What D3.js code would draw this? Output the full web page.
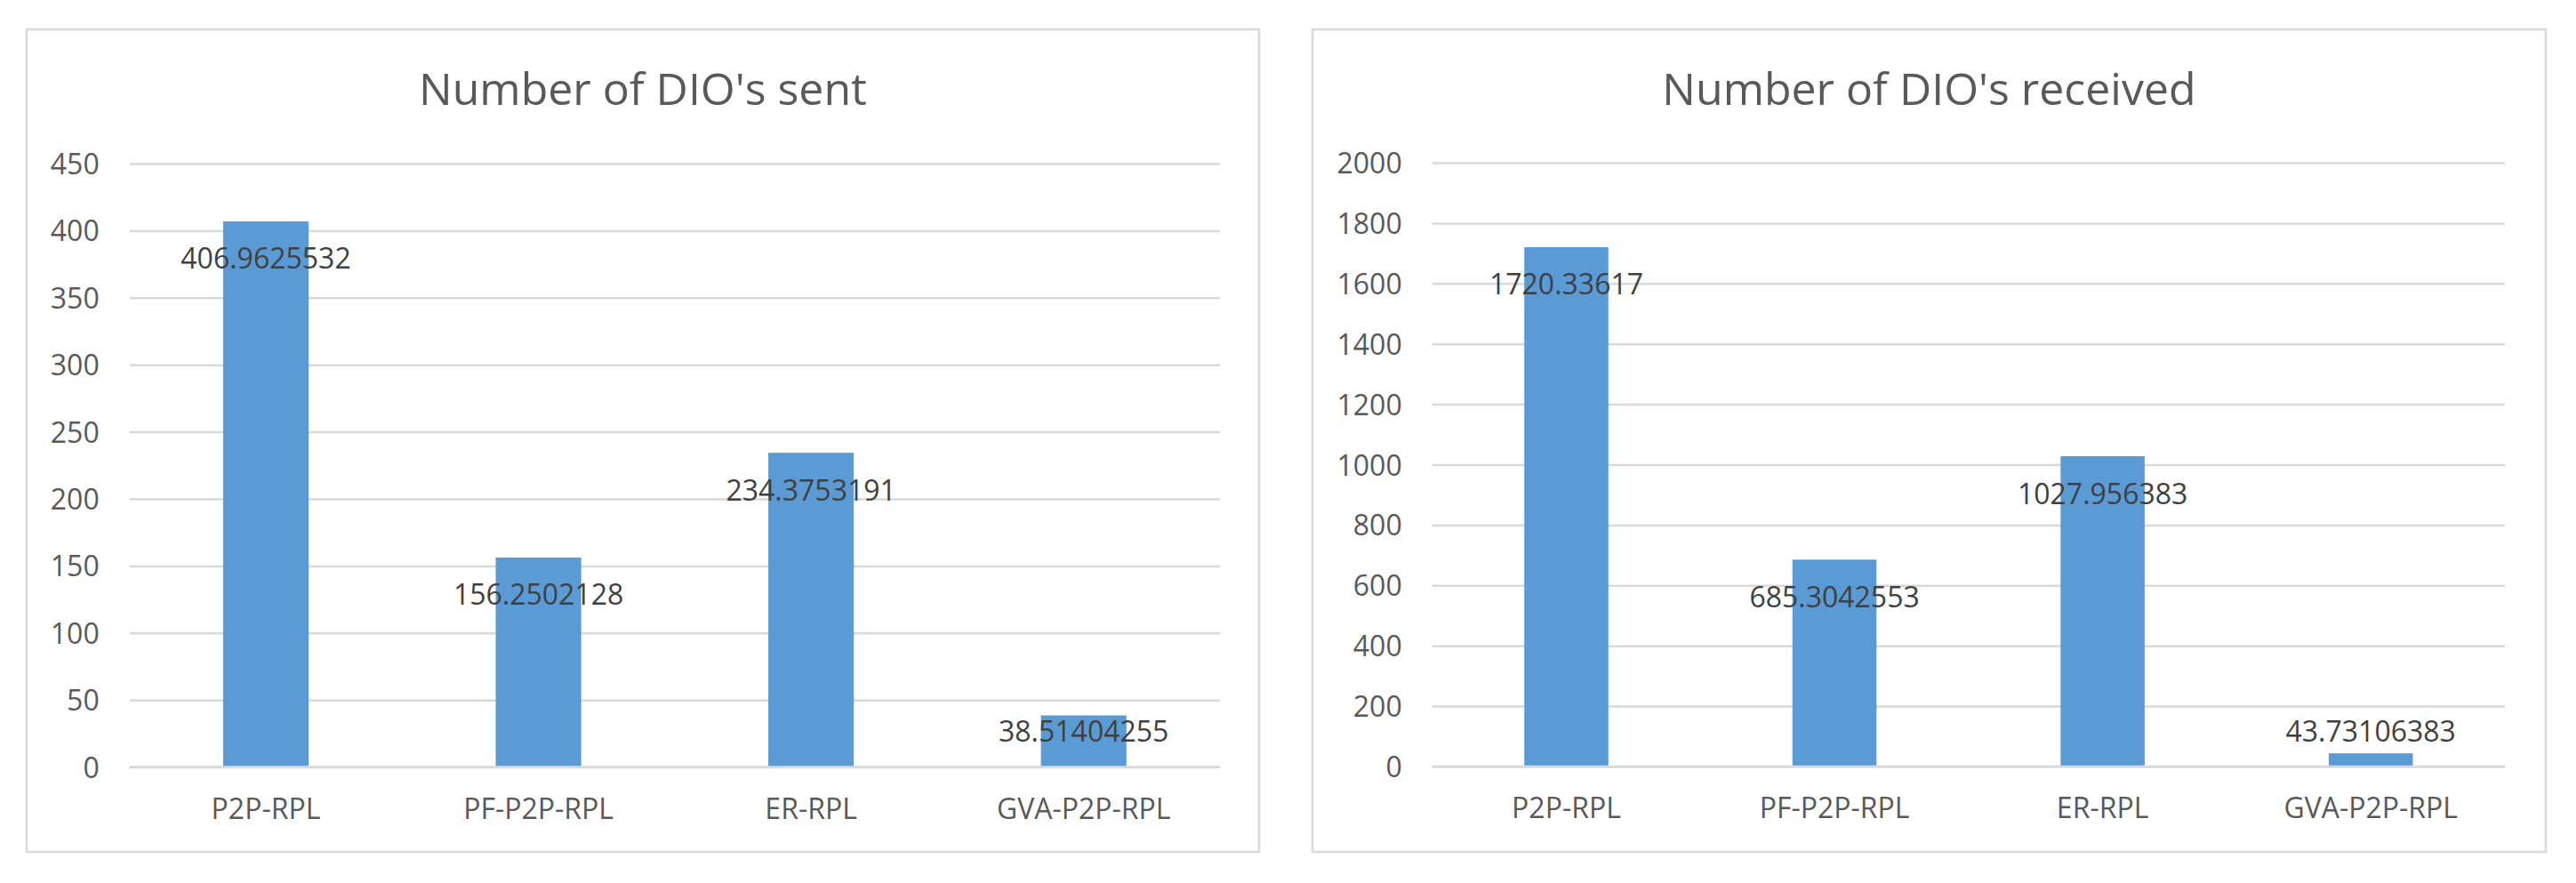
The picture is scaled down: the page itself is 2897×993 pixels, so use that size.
<!DOCTYPE html>
<html>
<head>
<meta charset="utf-8">
<script src="https://cdn.jsdelivr.net/npm/d3@7"></script>
<style>
  html, body { margin: 0; padding: 0; background: #ffffff; }
  svg { display: block; }
  text { font-family: "Open Sans", Lato, "Liberation Sans", sans-serif; }
</style>
</head>
<body>
<svg id="chart" width="2897" height="993"></svg>
<script>
// ---- data ----
const categories = ["P2P-RPL", "PF-P2P-RPL", "ER-RPL", "GVA-P2P-RPL"];
const sentValues = [406.9625532, 156.2502128, 234.3753191, 38.51404255];
const receivedValues = [1720.33617, 685.3042553, 1027.956383, 43.73106383];
const sentTicks = [0, 50, 100, 150, 200, 250, 300, 350, 400, 450];
const receivedTicks = [0, 200, 400, 600, 800, 1000, 1200, 1400, 1600, 1800, 2000];
const sentTitle = "Number of DIO's sent";
const receivedTitle = "Number of DIO's received";
const sentLabels = ["406.9625532", "156.2502128", "234.3753191", "38.51404255"];
const receivedLabels = ["1720.33617", "685.3042553", "1027.956383", "43.73106383"];

// ---- style ----
const BAR = "#5B9BD5";
const GRID = "#D9D9D9";
const AXIS_TEXT = "#595959";
const LABEL_TEXT = "#404040";
const FONT = '"Open Sans", Lato, sans-serif';

const svg = d3.select("#chart");

function panel(cfg) {
  const g = svg.append("g");
  // border
  g.append("rect")
    .attr("x", cfg.box[0]).attr("y", cfg.box[1])
    .attr("width", cfg.box[2] - cfg.box[0]).attr("height", cfg.box[3] - cfg.box[1])
    .attr("fill", "#fff").attr("stroke", GRID).attr("stroke-width", 2.5);

  // title
  g.append("text")
    .attr("x", (cfg.box[0] + cfg.box[2]) / 2)
    .attr("y", cfg.titleY)
    .attr("text-anchor", "middle")
    .attr("fill", AXIS_TEXT)
    .style("font-size", "50px")
    .text(cfg.title);

  const x = d3.scaleBand()
    .domain(cfg.categories)
    .range([cfg.plot[0], cfg.plot[2]])
    .paddingInner(1 - 1 / 3.19)
    .paddingOuter((1 - 1 / 3.19) / 2);
  const y = d3.scaleLinear()
    .domain([0, d3.max(cfg.ticks)])
    .range([cfg.plot[3], cfg.plot[1]]);

  // gridlines
  const grid = d3.axisLeft(y).tickValues(cfg.ticks)
    .tickSize(-(cfg.plot[2] - cfg.plot[0])).tickFormat("");
  const gg = g.append("g").attr("transform", `translate(${cfg.plot[0]},0)`).call(grid);
  gg.select(".domain").remove();
  gg.selectAll(".tick line").attr("stroke", GRID).attr("stroke-width", 2.5);

  // tick labels
  const ax = d3.axisLeft(y).tickValues(cfg.ticks).tickSize(0).tickPadding(34)
    .tickFormat(d3.format("d"));
  const ag = g.append("g").attr("transform", `translate(${cfg.plot[0]},0)`).call(ax);
  ag.select(".domain").remove();
  ag.selectAll(".tick text")
    .attr("fill", AXIS_TEXT)
    .attr("dy", "0.36em")
    .style("font-size", "32px")
    .style("font-family", FONT);

  // bars
  g.selectAll("rect.bar").data(cfg.values).enter().append("rect")
    .attr("class", "bar")
    .attr("x", (d, i) => x(cfg.categories[i]))
    .attr("width", x.bandwidth())
    .attr("y", d => y(d))
    .attr("height", d => y(0) - y(d))
    .attr("fill", BAR);

  // zero line on top
  g.append("line")
    .attr("x1", cfg.plot[0]).attr("x2", cfg.plot[2])
    .attr("y1", y(0)).attr("y2", y(0))
    .attr("stroke", GRID).attr("stroke-width", 2.5);

  // category labels
  const cx = d3.axisBottom(x).tickSize(0).tickPadding(0);
  const cg = g.append("g").attr("transform", `translate(0,${y(0)})`).call(cx);
  cg.select(".domain").remove();
  cg.selectAll(".tick text")
    .attr("fill", AXIS_TEXT)
    .attr("y", 58).attr("dy", 0)
    .style("font-size", "32px")
    .style("font-family", FONT);

  // data labels
  g.selectAll("text.dl").data(cfg.values).enter().append("text")
    .attr("class", "dl")
    .attr("x", (d, i) => x(cfg.categories[i]) + x.bandwidth() / 2)
    .attr("y", d => Math.min(y(d) + 42, y(0) - 40) + 11.5)
    .attr("text-anchor", "middle")
    .attr("fill", LABEL_TEXT)
    .style("font-size", "32px")
    .text((d, i) => cfg.labels[i]);
}

panel({
  box: [30, 33, 1416, 958],
  plot: [145.7, 184, 1372, 862.6],
  titleY: 118.3,
  title: sentTitle,
  categories: categories,
  values: sentValues,
  labels: sentLabels,
  ticks: sentTicks
});

panel({
  box: [1476, 33, 2863, 958],
  plot: [1610.7, 183, 2817, 862],
  titleY: 118.3,
  title: receivedTitle,
  categories: categories,
  values: receivedValues,
  labels: receivedLabels,
  ticks: receivedTicks
});
</script>
</body>
</html>
